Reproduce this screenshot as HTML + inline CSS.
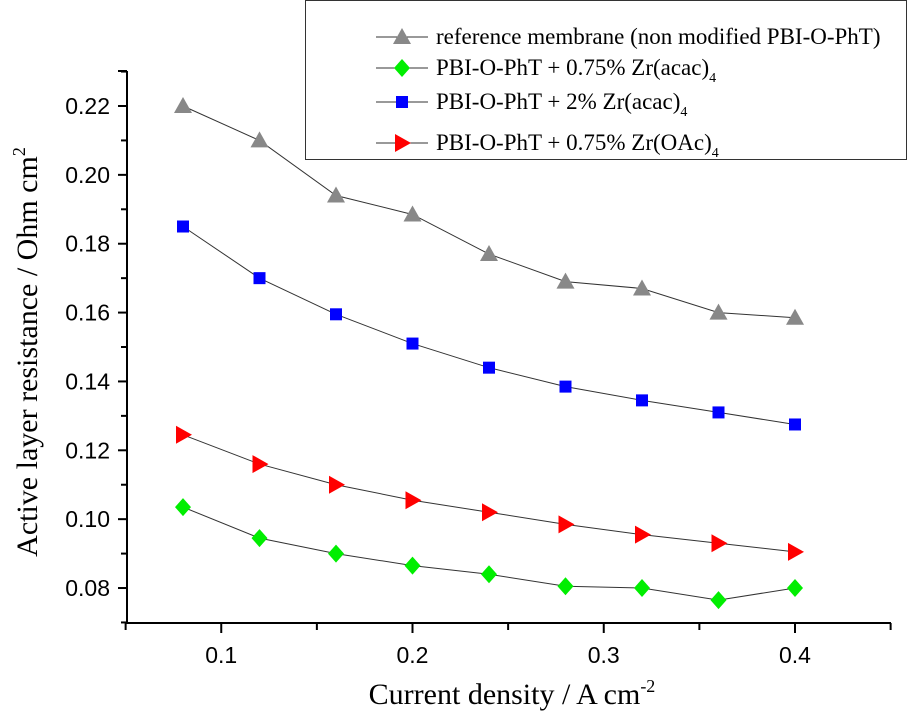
<!DOCTYPE html>
<html><head><meta charset="utf-8"><style>
html,body{margin:0;padding:0;background:#fff}
svg{display:block}
.tk{font-family:"Liberation Sans",sans-serif;font-size:23px;fill:#000}
.ti{font-family:"Liberation Serif",serif;font-size:30px;fill:#000}
.lg{font-family:"Liberation Serif",serif;font-size:23px;fill:#000}
</style></head><body>
<svg id="c" width="908" height="716" xmlns="http://www.w3.org/2000/svg"></svg>
<script>
const xValues=[0.08,0.12,0.16,0.20,0.24,0.28,0.32,0.36,0.40];
const refSeries=[0.220,0.210,0.194,0.1885,0.177,0.169,0.167,0.160,0.1585];
const zr2Series=[0.185,0.170,0.1595,0.151,0.144,0.1385,0.1345,0.131,0.1275];
const oacSeries=[0.1245,0.116,0.110,0.1055,0.102,0.0985,0.0955,0.093,0.0905];
const acacSeries=[0.1035,0.0945,0.090,0.0865,0.084,0.0805,0.080,0.0765,0.080];
const xTickLabels=["0.1","0.2","0.3","0.4"];
const yTickLabels=["0.08","0.10","0.12","0.14","0.16","0.18","0.20","0.22"];
const NS="http://www.w3.org/2000/svg";
const svg=document.getElementById('c');
const X=v=>183+(v-0.08)*1912.5;
const Y=v=>106+(0.22-v)*3443;
function mk(t,a,p){const e=document.createElementNS(NS,t);for(const k in a)e.setAttribute(k,a[k]);(p||svg).appendChild(e);return e;}
let ax=mk('g',{});


mk('line',{x1:127,y1:623,x2:891,y2:623,stroke:'#000','stroke-width':2},ax);
mk('line',{x1:127,y1:71,x2:127,y2:624,stroke:'#000','stroke-width':2},ax);
for(let i=0;i<=8;i++){const v=0.05+i*0.05;const x=X(v);const major=i%2==1;
 mk('line',{x1:x,y1:623,x2:x,y2:major?633:630,stroke:'#000','stroke-width':2},ax);}
xTickLabels.forEach(s=>{const t=mk('text',{x:X(parseFloat(s)),y:663,'text-anchor':'middle',class:'tk'},ax);t.textContent=s;
 });
for(let i=0;i<=16;i++){const v=0.07+i*0.01;if(v>0.2305)break;const y=Y(v);const major=i%2==1;
 mk('line',{x1:major?118:121,y1:y,x2:127,y2:y,stroke:'#000','stroke-width':2},ax);}
mk('line',{x1:118,y1:71,x2:127,y2:71,stroke:'#000','stroke-width':2},ax);
yTickLabels.forEach(s=>{const t=mk('text',{x:110,y:Y(parseFloat(s))+8,'text-anchor':'end',class:'tk'},ax);t.textContent=s;
 });
let xt=mk('text',{x:512,y:704,'text-anchor':'middle',class:'ti'});
xt.innerHTML='Current density / A cm<tspan dy="-12" font-size="18">-2</tspan>';

let yt=mk('text',{x:0,y:0,'text-anchor':'middle',class:'ti',transform:'translate(37,352) rotate(-90)'});
yt.innerHTML='Active layer resistance / Ohm cm<tspan dy="-12" font-size="18">2</tspan>';

function marker(kind,cx,cy,p){
 if(kind==='tri')return mk('polygon',{points:`${cx},${cy-9} ${cx+9},${cy+7} ${cx-9},${cy+7}`,fill:'#888'},p);
 if(kind==='dia')return mk('polygon',{points:`${cx},${cy-9} ${cx+8},${cy} ${cx},${cy+9} ${cx-8},${cy}`,fill:'#00ee00'},p);
 if(kind==='sq')return mk('rect',{x:cx-6,y:cy-6,width:12,height:12,fill:'#0000ff'},p);
 return mk('polygon',{points:`${cx-7},${cy-9} ${cx+9},${cy} ${cx-7},${cy+9}`,fill:'#ff0000'},p);
}
const series=[[refSeries,'tri','series-reference'],[zr2Series,'sq','series-zr-acac-2'],[oacSeries,'rt','series-zr-oac'],[acacSeries,'dia','series-zr-acac-075']];
series.forEach(([d,k,n])=>{const g=mk('g',{});
 
 mk('polyline',{points:d.map((v,i)=>X(xValues[i])+','+Y(v)).join(' '),fill:'none',stroke:'#333','stroke-width':1},g);
 d.forEach((v,i)=>{const m=marker(k,X(xValues[i]),Y(v),g);});});
let lg=mk('g',{});

mk('rect',{x:305.5,y:0.5,width:601,height:159,fill:'#fff',stroke:'#333','stroke-width':1},lg);
const legRows=[['tri',37,'reference membrane (non modified PBI-O-PhT)'],['dia',68,'PBI-O-PhT + 0.75% Zr(acac)<tspan dy="7" font-size="14">4</tspan>'],['sq',102,'PBI-O-PhT + 2% Zr(acac)<tspan dy="7" font-size="14">4</tspan>'],['rt',143,'PBI-O-PhT + 0.75% Zr(OAc)<tspan dy="7" font-size="14">4</tspan>']];
legRows.forEach(([k,y,txt])=>{const e=mk('g',{},lg);
 
 mk('line',{x1:376,y1:y,x2:428,y2:y,stroke:'#333','stroke-width':1},e);
 marker(k,402,y,e);
 const t=mk('text',{x:436,y:y+7,class:'lg'},e);t.innerHTML=txt;});
</script>
</body></html>
